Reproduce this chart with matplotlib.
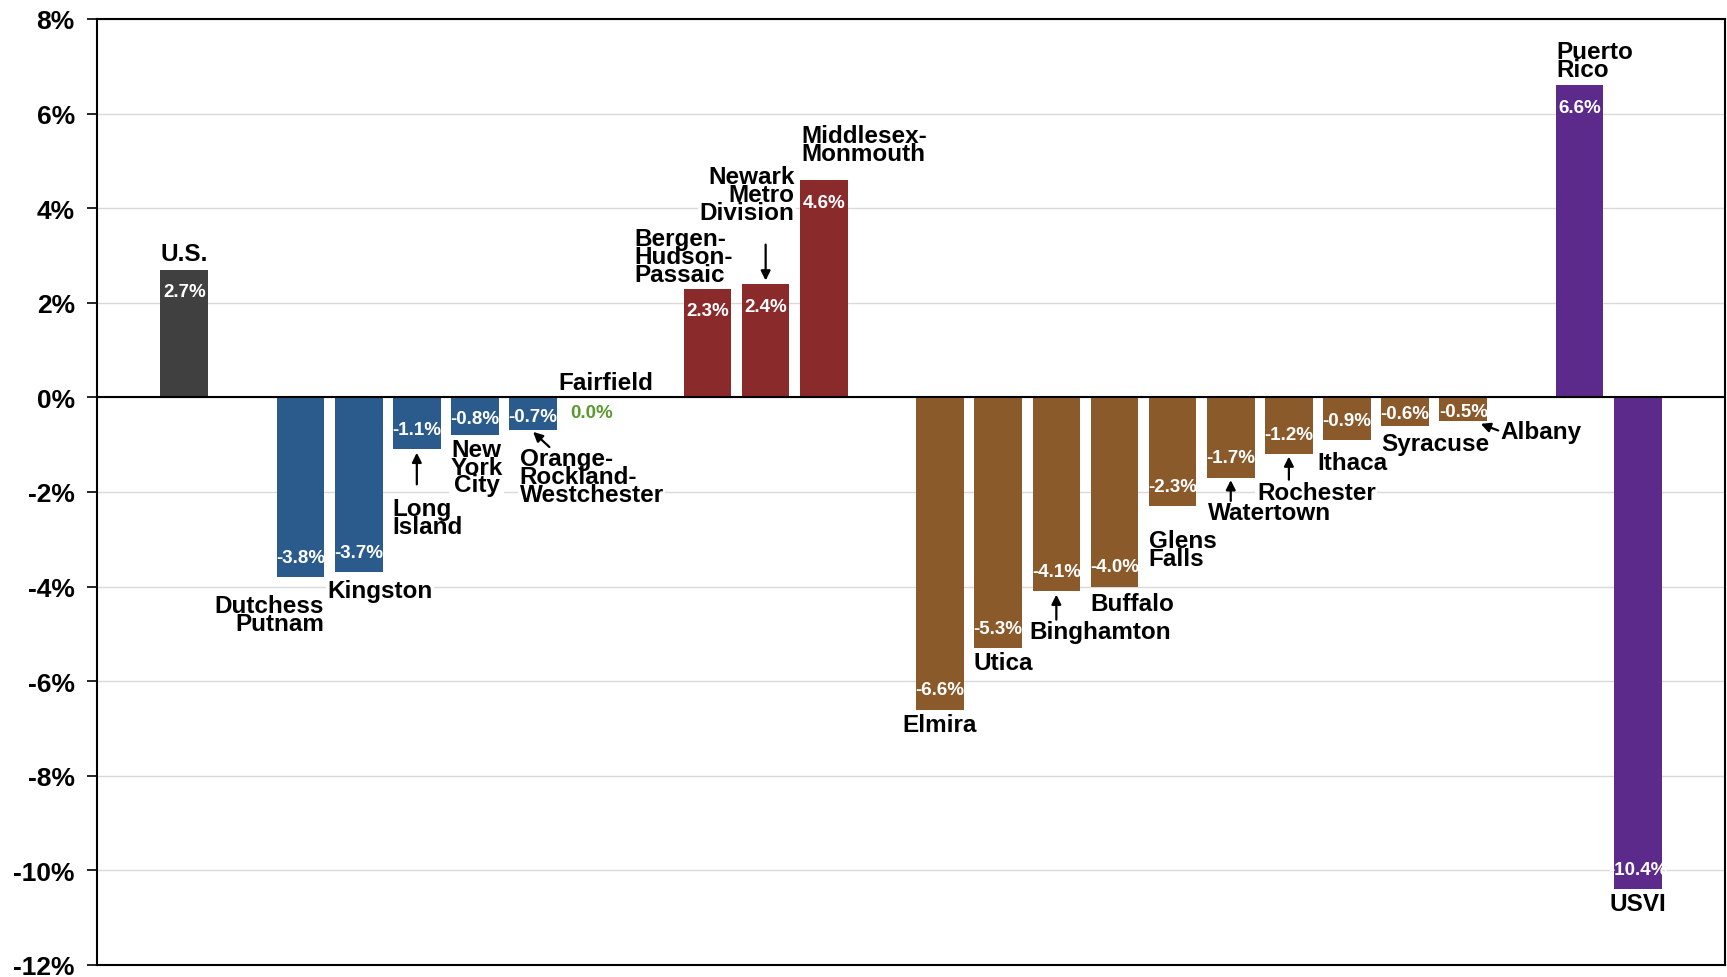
import matplotlib.pyplot as plt

# data
regions = ['U.S.', 'Dutchess\nPutnam', 'Kingston', 'Long\nIsland', 'New\nYork\nCity',
           'Orange-\nRockland-\nWestchester', 'Fairfield',
           'Bergen-\nHudson-\nPassaic', 'Newark\nMetro\nDivision', 'Middlesex-\nMonmouth',
           'Elmira', 'Utica', 'Binghamton', 'Buffalo', 'Glens\nFalls', 'Watertown',
           'Rochester', 'Ithaca', 'Syracuse', 'Albany',
           'Puerto\nRico', 'USVI']
changes = [2.7, -3.8, -3.7, -1.1, -0.8, -0.7, 0.0,
           2.3, 2.4, 4.6,
           -6.6, -5.3, -4.1, -4.0, -2.3, -1.7, -1.2, -0.9, -0.6, -0.5,
           6.6, -10.4]
groups = ['us', 'ny', 'ny', 'ny', 'ny', 'ny', 'ny',
          'nj', 'nj', 'nj',
          'up', 'up', 'up', 'up', 'up', 'up', 'up', 'up', 'up', 'up',
          'ter', 'ter']
slots = [0, 2, 3, 4, 5, 6, 7, 9, 10, 11, 13, 14, 15, 16, 17, 18, 19, 20, 21, 22, 24, 25]

group_colors = {'us': '#404040', 'ny': '#2A5B8C', 'nj': '#8B2A2B', 'up': '#8B5A2B', 'ter': '#5B2A8A'}

plt.rcParams['font.family'] = ['Liberation Sans', 'DejaVu Sans']
plt.rcParams['font.weight'] = 'bold'

fig = plt.figure(figsize=(17.27, 9.78), dpi=100)
ax = fig.add_axes([0.0562, 0.0123, 0.9426, 0.9673])

bars = ax.bar(slots, changes, width=0.82,
              color=[group_colors[g] for g in groups], zorder=2)

# values inside the bars
for x, v in zip(slots, changes):
    if v > 0:
        y = v - 0.47
    elif v <= -0.9:
        y = v + 0.42
    elif v < 0:
        y = v / 2 - 0.05
    else:
        y = -0.33
    col = '#5B9A2E' if v == 0 else 'white'
    ax.text(x, y, f'{v:.1f}%', ha='center', va='center', color=col,
            fontsize=13.5, fontweight='bold', zorder=4)

# region labels: (x, y, ha, va)
label_pos = {
    'U.S.': (0, 2.8, 'center', 'bottom'),
    'Dutchess\nPutnam': (2.4, -4.15, 'right', 'top'),
    'Kingston': (3.37, -3.85, 'center', 'top'),
    'Long\nIsland': (3.58, -2.1, 'left', 'top'),
    'New\nYork\nCity': (5.03, -0.85, 'center', 'top'),
    'Orange-\nRockland-\nWestchester': (5.77, -1.05, 'left', 'top'),
    'Fairfield': (7.25, 0.08, 'center', 'bottom'),
    'Bergen-\nHudson-\nPassaic': (7.74, 2.35, 'left', 'bottom'),
    'Newark\nMetro\nDivision': (10.5, 3.67, 'right', 'bottom'),
    'Middlesex-\nMonmouth': (10.61, 4.92, 'left', 'bottom'),
    'Elmira': (13.0, -6.68, 'center', 'top'),
    'Utica': (13.58, -5.36, 'left', 'top'),
    'Binghamton': (14.53, -4.7, 'left', 'top'),
    'Buffalo': (15.59, -4.12, 'left', 'top'),
    'Glens\nFalls': (16.59, -2.78, 'left', 'top'),
    'Watertown': (17.6, -2.2, 'left', 'top'),
    'Rochester': (18.45, -1.76, 'left', 'top'),
    'Ithaca': (19.49, -1.13, 'left', 'top'),
    'Syracuse': (20.59, -0.73, 'left', 'top'),
    'Albany': (22.63, -0.72, 'left', 'center'),
    'Puerto\nRico': (23.6, 6.68, 'left', 'bottom'),
    'USVI': (25.0, -10.46, 'center', 'top'),
}
for name in regions:
    x, y, ha, va = label_pos[name]
    ax.text(x, y, name, ha=ha, va=va, multialignment=ha if ha != 'center' else 'center',
            fontsize=17.5, fontweight='bold', linespacing=0.72, zorder=3,
            bbox=dict(facecolor='white', edgecolor='none', pad=1))

# arrows pointing to bars
arrows = [((4, -1.84), (4, -1.17)),
          ((6.28, -1.05), (6.0, -0.73)),
          ((10, 3.23), (10, 2.47)),
          ((15, -4.7), (15, -4.17)),
          ((18, -2.19), (18, -1.75)),
          ((19, -1.74), (19, -1.25)),
          ((22.6, -0.70), (22.3, -0.56))]
for tail, head in arrows:
    ax.annotate('', xy=head, xytext=tail, zorder=3,
                arrowprops=dict(arrowstyle='-|>', color='black', lw=1.6,
                                mutation_scale=14, shrinkA=0, shrinkB=0))

ax.axhline(0, color='black', lw=1.5, zorder=2.5)
ax.set_xlim(-1.5, 26.5)
ax.set_ylim(-12, 8)
ax.set_yticks(range(-12, 9, 2))
ax.set_yticklabels([f'{t}%' for t in range(-12, 9, 2)], fontsize=19, fontweight='bold')
ax.set_xticks([])
ax.tick_params(axis='y', length=7, width=1.2, pad=9)
ax.grid(axis='y', color='#D9D9D9', lw=1, zorder=0)
ax.set_axisbelow(True)
for s in ax.spines.values():
    s.set_linewidth(1.5)

fig.savefig('out.png', dpi=100)
